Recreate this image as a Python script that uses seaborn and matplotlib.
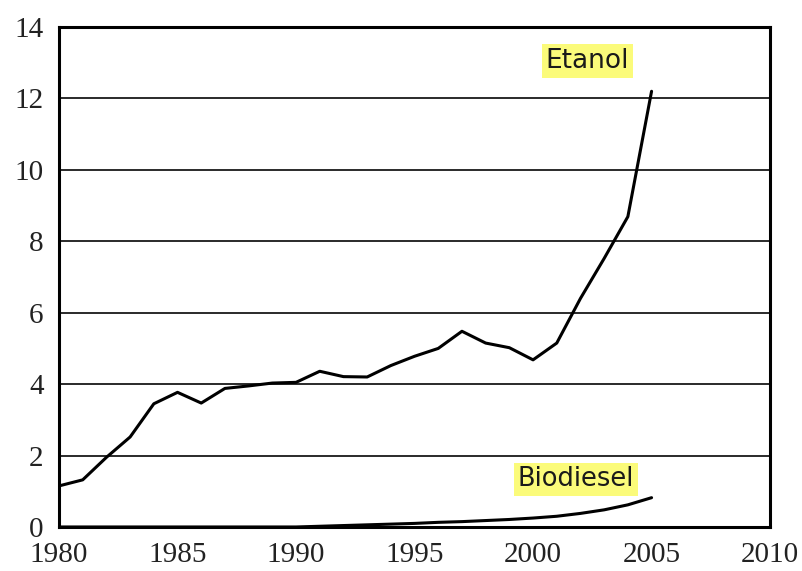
import numpy as np
import pandas as pd
import matplotlib.pyplot as plt
import seaborn as sns

years = list(range(1980, 2006))
etanol = [1.15, 1.32, 1.95, 2.52, 3.45, 3.77, 3.47, 3.88, 3.95, 4.03,
          4.05, 4.36, 4.21, 4.2, 4.52, 4.78, 5.0, 5.48, 5.15, 5.02,
          4.68, 5.15, 6.4, 7.52, 8.69, 12.2]
biodiesel = [0.0, 0.0, 0.0, 0.0, 0.0, 0.0, 0.0, 0.0, 0.0, 0.0,
             0.0, 0.02, 0.04, 0.06, 0.08, 0.1, 0.13, 0.15, 0.18, 0.21,
             0.25, 0.3, 0.38, 0.48, 0.62, 0.82]

x_ticks = [1980, 1985, 1990, 1995, 2000, 2005, 2010]
y_ticks = [0, 2, 4, 6, 8, 10, 12, 14]

df = pd.DataFrame({'ano': years, 'Etanol': etanol, 'Biodiesel': biodiesel})

sns.set_style('white')

fig = plt.figure(figsize=(8.03, 5.71), dpi=100)
ax = fig.add_axes([0.0735, 0.0771, 0.8855, 0.8756])

# linije mreze
for y in y_ticks[1:-1]:
    ax.axhline(y, color='#2a2a2a', lw=1.4, zorder=1)

sns.lineplot(data=df, x='ano', y='Etanol', color='black', lw=2.2, ax=ax, zorder=3)
sns.lineplot(data=df, x='ano', y='Biodiesel', color='black', lw=2.2, ax=ax, zorder=3)

ax.set_xlim(1980, 2010)
ax.set_ylim(0, 14)
ax.set_xticks(x_ticks)
ax.set_yticks(y_ticks)
ax.set_xlabel('')
ax.set_ylabel('')
ax.tick_params(axis='both', direction='out', length=9, width=1.4, color='#2a2a2a',
               labelsize=21, labelfontfamily='Liberation Serif',
               labelcolor='#222222', pad=2)

for s in ax.spines.values():
    s.set_color('black')
    s.set_linewidth(2.2)
    s.set_visible(True)

box = dict(boxstyle='square,pad=0.15', facecolor='#fbfb7a', edgecolor='none')
ax.text(2002.3, 13.05, 'Etanol', ha='center', va='center', fontsize=19,
        color='#1a1a1a', bbox=box, zorder=4)
ax.text(2001.8, 1.33, 'Biodiesel', ha='center', va='center', fontsize=18.5,
        color='#1a1a1a', bbox=box, zorder=4)

fig.savefig('out.png', dpi=100)
